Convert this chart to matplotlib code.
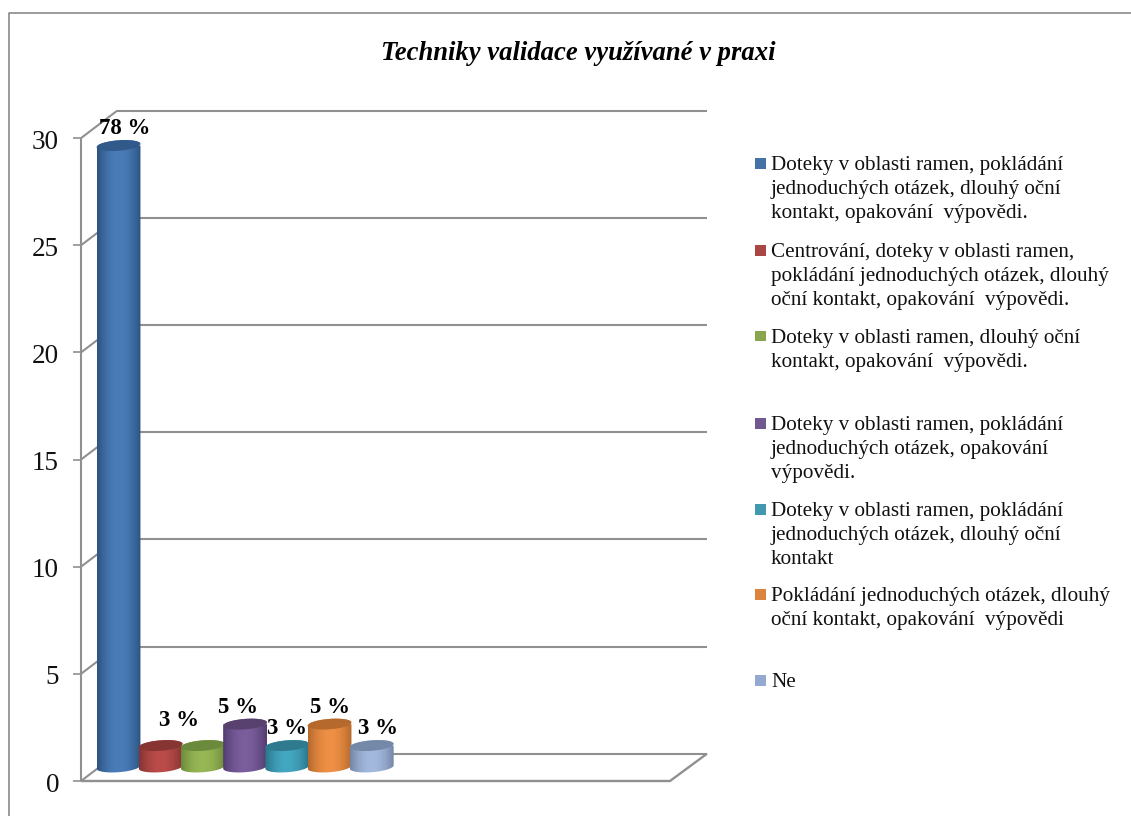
import numpy as np
import matplotlib
matplotlib.use('Agg')
import matplotlib.pyplot as plt
from matplotlib.lines import Line2D
from matplotlib.patches import Polygon, Rectangle

W, H = 1131, 816

counts = [29, 1, 1, 2, 1, 2, 1]
percent_labels = ['78 %', '3 %', '3 %', '5 %', '3 %', '5 %', '3 %']
# no label was printed for the third cylinder
show_label = [True, True, False, True, True, True, True]
y_ticks = [0, 5, 10, 15, 20, 25, 30]

legend_labels = [
    'Doteky v oblasti ramen, pokládání\njednoduchých otázek, dlouhý oční\nkontakt, opakování  výpovědi.',
    'Centrování, doteky v oblasti ramen,\npokládání jednoduchých otázek, dlouhý\noční kontakt, opakování  výpovědi.',
    'Doteky v oblasti ramen, dlouhý oční\nkontakt, opakování  výpovědi.',
    'Doteky v oblasti ramen, pokládání\njednoduchých otázek, opakování\nvýpovědi.',
    'Doteky v oblasti ramen, pokládání\njednoduchých otázek, dlouhý oční\nkontakt',
    'Pokládání jednoduchých otázek, dlouhý\noční kontakt, opakování  výpovědi',
    'Ne',
]
legend_y = [163, 250, 336, 423, 509, 594, 680]

mid_colors = ['#4a7db8', '#bb4c49', '#98b856', '#7b5e9d', '#44a7c2', '#ee9045', '#a3b9de']
edge_colors = ['#2c5380', '#833432', '#6d8a3a', '#533c70', '#2a7488', '#b5682c', '#7486a6']
top_colors = ['#31598a', '#873533', '#6c8a3b', '#58406f', '#2f7a8e', '#b5692d', '#7488a8']
swatch_colors = ['#4572a7', '#aa4643', '#89a54e', '#71588f', '#4198af', '#db843d', '#93a9cf']
GREY = '#909090'

plt.rcParams['font.family'] = ['Liberation Serif', 'DejaVu Serif']

fig = plt.figure(figsize=(W / 100, H / 100), dpi=100, facecolor='white')

# axes box runs from the front-left corner to the back-right corner of the plot
x_left, x_right, y_bottom, y_top = 81, 707, 781, 112
ax = fig.add_axes([x_left / W, 1 - y_bottom / H, (x_right - x_left) / W, (y_bottom - y_top) / H])
px_per_unit = 21.43
px_per_slot = 42.2
x0_px = 118.5
ax.set_xlim((x_left - x0_px) / px_per_slot, (x_right - x0_px) / px_per_slot)
ax.set_ylim(0, (y_bottom - y_top) / px_per_unit)
ax.axis('off')

depth_x = 36 / px_per_slot
depth_y = 27.3 / px_per_unit
front_x = ax.get_xlim()[0]
front_end = front_x + 589 / px_per_slot
back_x = front_x + depth_x
back_end = ax.get_xlim()[1]
floor_y = 14 / px_per_unit


def line(xs, ys, lw=1.5, color=GREY, z=1):
    ax.plot(xs, ys, color=color, lw=lw, solid_capstyle='butt', zorder=z, clip_on=False)


# back wall gridlines, side wall diagonals and ticks
for v in y_ticks:
    if v > 0:
        line([back_x, back_end], [v + depth_y, v + depth_y])
    line([front_x, back_x], [v, v + depth_y])
    line([front_x - 8 / px_per_slot, front_x], [v, v], lw=1.2)
    ax.text(front_x - 22 / px_per_slot, v - 4 / px_per_unit, str(v), ha='right', va='center', fontsize=19.5, color='#111111')
line([back_x, back_end], [depth_y, depth_y])
line([front_x, front_x], [0, 30], lw=1.5)
line([front_x, front_end, back_end], [0, 0, depth_y], lw=1.7)


def draw_cylinder(i, value):
    half_w = 0.52
    rx_px, ry_px = half_w * px_per_slot, 5.2
    tilt = np.radians(4.5)
    t = np.linspace(0, 2 * np.pi, 120)
    ex = (rx_px * np.cos(t) * np.cos(tilt) - ry_px * np.sin(t) * np.sin(tilt)) / px_per_slot
    ey = (rx_px * np.cos(t) * np.sin(tilt) + ry_px * np.sin(t) * np.cos(tilt)) / px_per_unit
    top = floor_y + value

    lower = t >= np.pi
    body_x = np.concatenate([[i - half_w, i - half_w], i + ex[lower], [i + half_w, i + half_w], i + ex[~lower][:60][::-1]])
    body_y = np.concatenate([[top, floor_y], floor_y + ey[lower], [floor_y, top], top + ey[~lower][:60][::-1]])
    clip = Polygon(np.column_stack([body_x, body_y]), closed=True, transform=ax.transData, fc='none', ec='none')
    ax.add_patch(clip)

    # horizontal shading across the body: dark rims, lighter middle
    s = np.abs(np.linspace(-1, 1, 64)) ** 1.9
    c0 = np.array(matplotlib.colors.to_rgb(mid_colors[i]))
    c1 = np.array(matplotlib.colors.to_rgb(edge_colors[i]))
    shade = (c0[None, :] * (1 - s[:, None]) + c1[None, :] * s[:, None])[None, :, :]
    z = 3 + i * 0.1
    im = ax.imshow(shade, extent=[i - half_w, i + half_w, floor_y - 0.4, top + 0.4], aspect='auto', zorder=z, interpolation='bilinear')
    im.set_clip_path(clip)

    ax.add_patch(Polygon(np.column_stack([i + ex, top + ey]), closed=True, fc=top_colors[i], ec='none', zorder=z + 0.01))


xlim, ylim = ax.get_xlim(), ax.get_ylim()
for i, value in enumerate(counts):
    draw_cylinder(i, value)
ax.set_xlim(xlim)
ax.set_ylim(ylim)

# percentage labels sit above each cylinder
label_dx = [6, 18, 0, -7, 0, 0, 6]
label_dy = [17, 25, 0, 17, 17, 17, 17]
for i, value in enumerate(counts):
    if show_label[i]:
        ax.text(i + label_dx[i] / px_per_slot, floor_y + value + label_dy[i] / px_per_unit, percent_labels[i],
                ha='center', va='center', fontsize=16.5, fontweight='bold', color='black', zorder=8, clip_on=False)

fig.text(578 / W, 1 - 54 / H, 'Techniky validace využívané v praxi', ha='center', va='center',
         fontsize=19.2, fontstyle='italic', fontweight='bold', color='black')

for label, y, color in zip(legend_labels, legend_y, swatch_colors):
    fig.add_artist(Rectangle((755 / W, 1 - (y + 5.5) / H), 11 / W, 11 / H, fc=color, ec='none', transform=fig.transFigure))
    fig.text(771 / W, 1 - (y - 7) / H, label, ha='left', va='top', fontsize=15.2, linespacing=1.35, color='#111111')

# outer frame, cut off on the right and at the bottom
fig.add_artist(Line2D([9 / W, 9 / W, 1], [0, 1 - 13 / H, 1 - 13 / H], color='#808080', lw=1.1, transform=fig.transFigure))

fig.savefig('out.png', dpi=100)
